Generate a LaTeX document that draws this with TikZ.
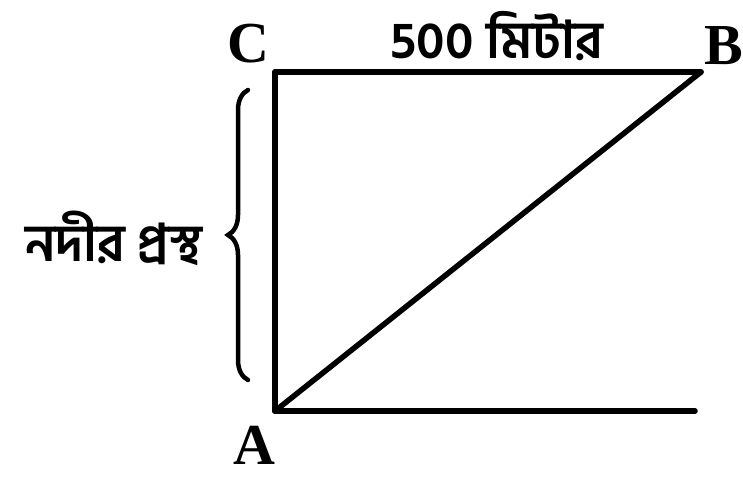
\documentclass[tikz,border=0pt]{standalone}
\usepackage{fontspec}
\setmainfont{Liberation Serif}
\newfontfamily\bnfont[Script=Bengali]{Hind Siliguri}
\usetikzlibrary{decorations.pathreplacing}
\begin{document}
\begin{tikzpicture}[x=1pt,y=-1pt,
  edge/.style={line width=5.5pt,line cap=round,line join=miter},
  pt/.style={font=\fontsize{58}{58}\selectfont\bfseries,inner sep=0pt},
  bn/.style={font=\bnfont\fontsize{52}{52}\selectfont\bfseries,inner sep=0pt}]
\useasboundingbox (0,0) rectangle (743,476);
\coordinate (A) at (275,411);
\coordinate (C) at (275,72);
\coordinate (B) at (701,72);
\coordinate (E) at (695,411);
\node[pt] (lC) at (248,44) {C};
\node[pt] (lB) at (724,46) {B};
\node[pt] (lA) at (254,445) {A};
\node[bn] (w) at (497,36) {500 মিটার};
\node[bn] (r) at (114,238) {নদীর প্রস্থ};
\draw[edge] (C) -- (B);
\draw[edge] (C) -- (A);
\draw[edge] (A) -- (B);
\draw[edge] (A) -- (E);
\coordinate (b1) at (248,380);
\coordinate (b2) at (248,90);
\draw[line width=4.5pt,line cap=round,decorate,decoration={brace,amplitude=20pt}] (b1) -- (b2);
\end{tikzpicture}
\end{document}
